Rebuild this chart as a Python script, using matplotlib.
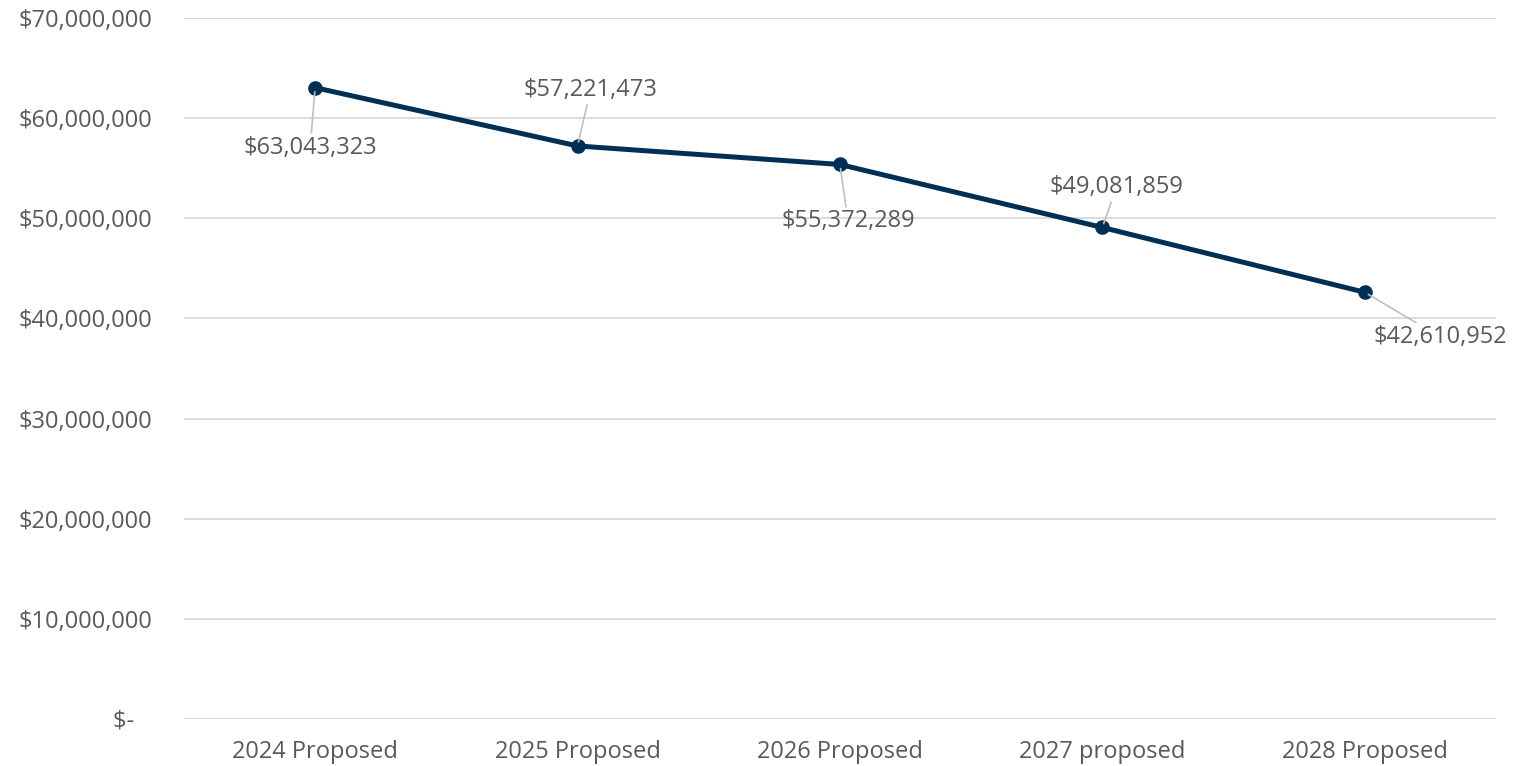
import matplotlib.pyplot as plt
from matplotlib.ticker import FuncFormatter

years = ['2024 Proposed', '2025 Proposed', '2026 Proposed', '2027 proposed', '2028 Proposed']
values = [63043323, 57221473, 55372289, 49081859, 42610952]
# label offsets from each point, in pixels
label_offsets = [(-5, -60), (13, 56), (8, -57), (14, 40), (76, -45)]

plt.rcParams['font.family'] = ['Open Sans', 'DejaVu Sans']
text_color = '#595959'
line_color = '#002F56'

fig = plt.figure(figsize=(15.24, 7.66), dpi=100)
ax = fig.add_axes([0.1207, 0.0614, 0.8609, 0.9151])

x = list(range(len(years)))
ax.plot(x, values, color=line_color, linewidth=3.6, marker='o',
        markersize=9.5, zorder=3, solid_capstyle='round')

for xi, v, (dx, dy) in zip(x, values, label_offsets):
    ax.annotate(f'${v:,.0f}', xy=(xi, v), xytext=(dx, dy),
                textcoords='offset pixels', ha='center', va='center',
                fontsize=17, color=text_color, zorder=4,
                arrowprops=dict(arrowstyle='-', color='#bfbfbf', lw=1.2,
                                shrinkA=0, shrinkB=3))

ax.set_xlim(-0.5, len(years) - 0.5)
ax.set_ylim(0, 70000000)
ax.set_yticks(range(0, 70000001, 10000000))
ax.yaxis.set_major_formatter(FuncFormatter(
    lambda v, p: '$-   ' if v == 0 else f'${v:,.0f}'))
ax.set_xticks(x)
ax.set_xticklabels(years)

ax.grid(axis='y', color='#d9d9d9', linewidth=1.3)
ax.set_axisbelow(True)
for s in ax.spines.values():
    s.set_visible(False)
ax.tick_params(axis='both', length=0, labelsize=17, labelcolor=text_color)
ax.tick_params(axis='y', pad=23)
ax.tick_params(axis='x', pad=15)

plt.savefig('out.png', dpi=100)
